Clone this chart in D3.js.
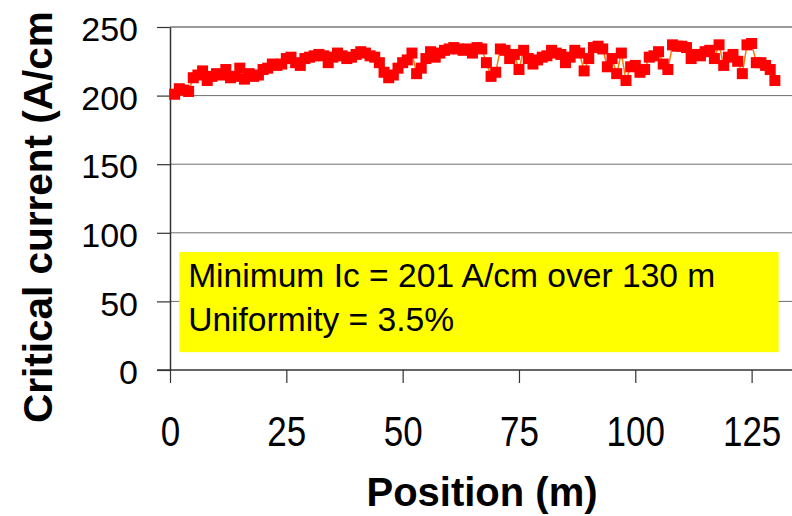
<!DOCTYPE html>
<html>
<head>
<meta charset="utf-8">
<script src="https://cdn.jsdelivr.net/npm/d3@7"></script>
<style>
  body { margin: 0; background: #fff; }
  svg { display: block; font-family: "Liberation Sans", Arial, sans-serif; }
</style>
</head>
<body>
<script>
'use strict';

// position along the tape (m)
const positions = d3.range(1, 131);

// critical current readings (A/cm), one per metre
const currents = [
  201, 205, 204, 203, 213, 215, 218, 211, 214, 216,
  215, 219, 213, 214, 220, 212, 216, 214, 215, 219,
  220, 223, 222, 223, 227, 228, 224, 222, 227, 228,
  229, 230, 229, 224, 228, 231, 229, 227, 228, 230,
  232, 231, 229, 228, 224, 217, 213, 215, 220, 224,
  226, 231, 216, 220, 227, 232, 228, 231, 233, 234,
  235, 234, 233, 234, 231, 235, 234, 224, 214, 217,
  234, 233, 227, 230, 219, 233, 227, 223, 226, 228,
  229, 233, 231, 230, 224, 228, 233, 231, 218, 227,
  235, 236, 234, 221, 227, 216, 231, 211, 221, 222,
  217, 219, 228, 229, 232, 223, 219, 237, 236, 236,
  235, 227, 230, 229, 232, 233, 227, 237, 222, 228,
  230, 225, 216, 237, 238, 224, 224, 222, 219, 211
];

const xTicks = [0, 25, 50, 75, 100, 125];
const yTicks = [0, 50, 100, 150, 200, 250];

const noteLines = ["Minimum Ic = 201 A/cm over 130 m", "Uniformity = 3.5%"];

(function() {

  let svgContainer = "";

  window.onload = function() {
    svgContainer = d3.select('body')
      .append('svg')
      .attr('width', 792)
      .attr('height', 516);

    let map = drawAxes();
    drawNote(map);
    plotData(map);
    makeLabels();
  }

  // axes, gridlines and tick labels
  function drawAxes() {
    let xScale = d3.scaleLinear()
      .domain([0, 135])
      .range([170, 170 + 135 * 4.653]);

    let yScale = d3.scaleLinear()
      .domain([0, 250])
      .range([370, 27]);

    // horizontal gridlines
    svgContainer.append('g')
      .selectAll('line')
      .data(yTicks.filter((d) => d > 0))
      .enter()
      .append('line')
        .attr('x1', 170)
        .attr('x2', 800)
        .attr('y1', (d) => yScale(d))
        .attr('y2', (d) => yScale(d))
        .attr('stroke', (d) => d == 250 ? '#9a9a9a' : '#6e6e6e')
        .attr('stroke-width', (d) => d == 250 ? 2 : 1);

    let xAxis = d3.axisBottom(xScale)
      .tickValues(xTicks)
      .tickSize(13)
      .tickSizeOuter(0)
      .tickFormat(d3.format('d'));
    let gx = svgContainer.append('g')
      .attr('transform', 'translate(0, 370)')
      .call(xAxis);
    gx.select('.domain').attr('d', 'M157,0H800').attr('stroke', '#333').attr('stroke-width', 1.5);
    gx.selectAll('.tick line').attr('stroke', '#333').attr('stroke-width', 1.2);
    // x labels in the original are drawn a little taller than wide
    gx.selectAll('.tick text')
      .attr('y', 62.3)
      .attr('dy', null)
      .attr('transform', 'scale(1,1.22)')
      .attr('fill', '#000')
      .style('font-size', '35px');

    let yAxis = d3.axisLeft(yScale)
      .tickValues(yTicks)
      .tickSize(13)
      .tickSizeOuter(0);
    let gy = svgContainer.append('g')
      .attr('transform', 'translate(170, 0)')
      .call(yAxis);
    gy.select('.domain').attr('stroke', '#333').attr('stroke-width', 1.5);
    gy.selectAll('.tick line').attr('stroke', '#333').attr('stroke-width', 1.2);
    gy.selectAll('.tick text')
      .attr('x', -32)
      .attr('dy', '0.4em')
      .attr('fill', '#000')
      .style('font-size', '34px');

    gx.attr('font-family', null).attr('font-size', null);
    gy.attr('font-family', null).attr('font-size', null);

    return { x: xScale, y: yScale };
  }

  // yellow annotation box
  function drawNote(map) {
    svgContainer.append('rect')
      .attr('x', map.x(2))
      .attr('y', map.y(86))
      .attr('width', map.x(130.8) - map.x(2))
      .attr('height', map.y(13) - map.y(86))
      .attr('fill', '#ffff00');

    svgContainer.append('g')
      .selectAll('text')
      .data(noteLines)
      .enter()
      .append('text')
        .attr('x', map.x(3.9))
        .attr('y', (d, i) => 287 + i * 44)
        .style('font-size', '33.6px')
        .text((d) => d);
  }

  // connecting line and square markers
  function plotData(map) {
    let pts = positions.map((p, i) => ({ x: p, y: currents[i] }));

    let line = d3.line()
      .x((d) => map.x(d.x))
      .y((d) => map.y(d.y));

    svgContainer.append('path')
      .datum(pts)
      .attr('d', line)
      .attr('fill', 'none')
      .attr('stroke', '#ff7a00')
      .attr('stroke-width', 1.5);

    svgContainer.selectAll('.dot')
      .data(pts)
      .enter()
      .append('rect')
        .attr('class', 'dot')
        .attr('x', (d) => map.x(d.x) - 5.5)
        .attr('y', (d) => map.y(d.y) - 5.5)
        .attr('width', 11)
        .attr('height', 11)
        .attr('fill', '#ff0000');
  }

  // axis titles
  function makeLabels() {
    svgContainer.append('text')
      .attr('x', 482)
      .attr('y', 506)
      .attr('text-anchor', 'middle')
      .style('font-size', '40px')
      .style('font-weight', 'bold')
      .text('Position (m)');

    // the original title runs past the top edge; only the visible part is kept
    svgContainer.append('text')
      .attr('transform', 'translate(52, 423)rotate(-90)')
      .style('font-size', '40.5px')
      .style('font-weight', 'bold')
      .text('Critical current (A/cm');
  }

})();
</script>
</body>
</html>
